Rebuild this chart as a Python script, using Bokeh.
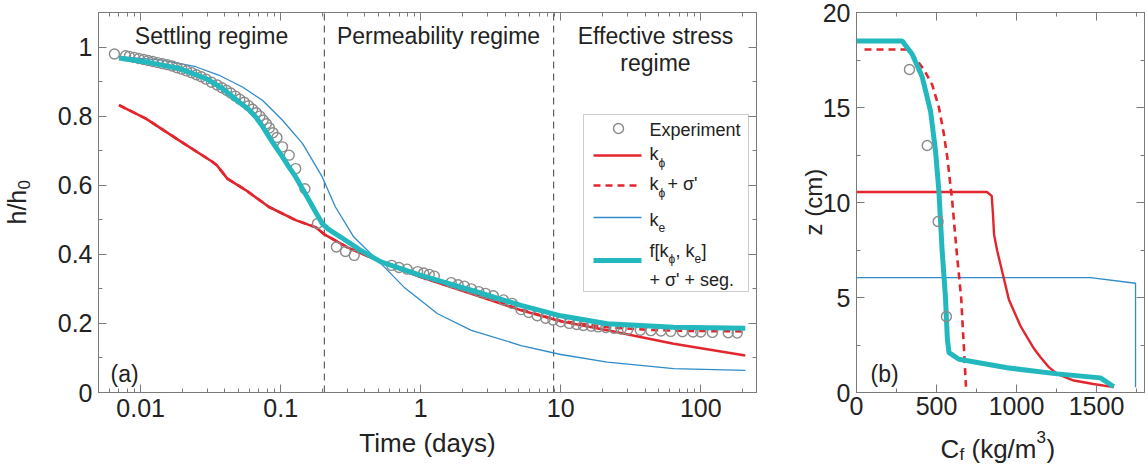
import math
from bokeh.plotting import figure
from bokeh.layouts import row
from bokeh.models import (LinearAxis, LogAxis, LogTicker, SingleIntervalTicker,
                          PrintfTickFormatter, CustomJSTickFormatter, Label, BoxAnnotation, Range1d)
from bokeh.embed import file_html
from bokeh.resources import INLINE

# ---------------- DATA: panel (a) ----------------
exp_t = [0.0065, 0.0078, 0.0083, 0.0090, 0.0097, 0.0105, 0.0113, 0.0122, 0.0132, 0.0143,
         0.0155, 0.0168, 0.0182, 0.0197, 0.0213, 0.0231, 0.0250, 0.0271, 0.0293, 0.0320,
         0.0352, 0.0380, 0.0410, 0.0440, 0.0475, 0.0510, 0.0550, 0.0590, 0.0630, 0.0670,
         0.0710, 0.0750, 0.0790, 0.0830, 0.0880, 0.0940, 0.103, 0.115, 0.128, 0.149,
         0.183, 0.250, 0.290, 0.335, 0.62, 0.70, 0.80, 0.95, 1.05, 1.15,
         1.25, 1.65, 1.85, 2.05, 2.3, 2.6, 2.9, 3.3, 3.9, 4.5,
         5.2, 5.9, 6.8, 7.8, 8.8, 10.0, 11.5, 13.0, 14.5, 16.5,
         18.5, 21.0, 24.0, 27.0, 30.0, 37.0, 44.0, 52.0, 61.0, 74.0,
         88.0, 100.0, 121.0, 157.0, 182.0]
exp_h = [0.980, 0.975, 0.973, 0.970, 0.967, 0.964, 0.961, 0.958, 0.955, 0.952,
         0.949, 0.945, 0.940, 0.936, 0.931, 0.926, 0.920, 0.914, 0.907, 0.898,
         0.890, 0.882, 0.875, 0.867, 0.858, 0.849, 0.840, 0.830, 0.820, 0.810,
         0.800, 0.789, 0.778, 0.766, 0.752, 0.738, 0.711, 0.687, 0.648, 0.590,
         0.489, 0.421, 0.408, 0.397, 0.368, 0.362, 0.357, 0.350, 0.346, 0.342,
         0.337, 0.318, 0.312, 0.308, 0.300, 0.292, 0.287, 0.280, 0.268, 0.258,
         0.240, 0.232, 0.222, 0.215, 0.210, 0.205, 0.200, 0.197, 0.194, 0.192,
         0.190, 0.188, 0.186, 0.184, 0.182, 0.180, 0.179, 0.178, 0.177, 0.176,
         0.175, 0.175, 0.174, 0.173, 0.172]

kphi_t = [0.0070, 0.0109, 0.0188, 0.0325, 0.0350, 0.0416, 0.0562, 0.0826, 0.128, 0.178,
          0.205, 0.30, 0.52, 1.0, 2.3, 5.2, 10.0, 21.5, 64.0, 208.0]
kphi_h = [0.832, 0.793, 0.730, 0.668, 0.658, 0.619, 0.586, 0.537, 0.499, 0.478,
          0.458, 0.420, 0.378, 0.334, 0.286, 0.238, 0.206, 0.180, 0.141, 0.107]

kphis_t = [0.0070, 0.0109, 0.0188, 0.0325, 0.0350, 0.0416, 0.0562, 0.0826, 0.128, 0.178,
           0.205, 0.30, 0.52, 1.0, 2.3, 5.2, 10.0, 21.5, 40.0, 64.0, 100.0, 208.0]
kphis_h = [0.832, 0.793, 0.730, 0.668, 0.658, 0.619, 0.586, 0.537, 0.499, 0.478,
           0.458, 0.420, 0.378, 0.334, 0.288, 0.240, 0.207, 0.189, 0.182, 0.179, 0.178, 0.177]

ke_t = [0.0070, 0.0143, 0.0247, 0.036, 0.053, 0.074, 0.103, 0.143, 0.198, 0.246,
        0.333, 0.52, 0.76, 1.32, 2.3, 5.2, 10.0, 21.5, 64.0, 208.0]
ke_h = [0.972, 0.962, 0.943, 0.919, 0.885, 0.846, 0.788, 0.721, 0.624, 0.537,
        0.450, 0.373, 0.305, 0.228, 0.180, 0.136, 0.110, 0.088, 0.069, 0.064]

fseg_t = [0.0070, 0.0109, 0.0188, 0.0292, 0.0384, 0.0504, 0.0590, 0.0662, 0.0740, 0.0826,
          0.092, 0.103, 0.114, 0.128, 0.143, 0.159, 0.178, 0.198, 0.22, 0.268,
          0.37, 0.52, 1.0, 2.3, 5.2, 10.0, 21.5, 64.0, 208.0]
fseg_h = [0.968, 0.957, 0.938, 0.909, 0.880, 0.841, 0.820, 0.798, 0.771, 0.740,
          0.711, 0.682, 0.654, 0.624, 0.590, 0.557, 0.522, 0.489, 0.472, 0.450,
          0.412, 0.378, 0.339, 0.296, 0.252, 0.222, 0.199, 0.189, 0.186]

regime_bounds = [0.205, 8.9]

# ---------------- DATA: panel (b) ----------------
expb_c = [331, 442, 510, 562]
expb_z = [17.0, 13.0, 9.0, 4.0]

kphib_c = [0, 815, 845, 852, 860, 879, 921, 952, 983, 1025, 1067, 1110, 1150, 1200, 1254, 1358, 1480, 1608]
kphib_z = [10.55, 10.55, 10.35, 9.5, 8.3, 7.47, 6.0, 4.9, 4.3, 3.5, 2.9, 2.3, 1.86, 1.35, 0.98, 0.63, 0.45, 0.28]

kphisb_c = [50, 317, 358, 421, 473, 515, 546, 567, 598, 625, 654, 671, 684]
kphisb_z = [18.05, 18.05, 17.7, 17.0, 16.2, 15.0, 13.6, 12.4, 10.1, 7.5, 5.0, 2.4, 0.3]

keb_c = [0, 1462, 1744, 1744]
keb_z = [6.05, 6.05, 5.75, 0.28]

fsegb_c = [0, 286, 348, 411, 463, 494, 515, 535, 556, 568, 578, 640, 942, 1254, 1525, 1608]
fsegb_z = [18.5, 18.5, 17.8, 16.6, 14.8, 12.7, 10.6, 7.5, 5.0, 2.8, 2.1, 1.75, 1.3, 0.98, 0.77, 0.30]

# ---------------- styles ----------------
FONT = "Liberation Sans"
TXT = "#222222"
FRAME = "#7a7a7a"
RED = "#e3262d"
BLUE = "#2f8bc9"
CYAN = "#22b8bd"
GRAY = "#8a8a8a"

H = 475
TOP, BOT = 12, 83
FH = H - TOP - BOT  # 380 : height of the axes box

A_L, A_R, A_W = 98, 44, 800
A_FW = A_W - A_L - A_R  # 658
AX0, AX1 = 0.005, 250.0
AY0, AY1 = 0.0, 1.1

B_OFF = 800
B_L, B_R, B_W = 56, 3, 347
B_FW = B_W - B_L - B_R  # 288
BX0, BX1 = 0, 1800
BY0, BY1 = 0, 20

DY_TEXT = 5     # baseline correction for horizontal labels (px)
DX_ROT = 15     # baseline correction for vertical labels (px)


def ax_(px):
    lx0, lx1 = math.log10(AX0), math.log10(AX1)
    return 10 ** (lx0 + (px - A_L) / A_FW * (lx1 - lx0))


def ay_(py):
    return AY1 - (py - TOP) / FH * (AY1 - AY0)


def bx_(px):
    return BX0 + (px - B_OFF - B_L) / B_FW * (BX1 - BX0)


def by_(py):
    return BY1 - (py - TOP) / FH * (BY1 - BY0)


def style_axis(ax, size="25px"):
    ax.axis_line_color = FRAME
    ax.major_tick_line_color = FRAME
    ax.minor_tick_line_color = FRAME
    ax.major_tick_in = 8
    ax.major_tick_out = 0
    ax.minor_tick_in = 4
    ax.minor_tick_out = 0
    ax.major_label_text_font = FONT
    ax.major_label_text_font_size = size
    ax.major_label_text_color = TXT
    ax.major_label_standoff = 6


def blank_axis(ax):
    style_axis(ax, "1px")
    ax.major_label_text_alpha = 0
    ax.major_label_standoff = 0


def lab(p, fx, fy, px, py, text, size, align="left"):
    p.add_layout(Label(x=fx(px), y=fy(py - DY_TEXT), text=text, text_font=FONT,
                       text_font_size=size, text_color=TXT, text_align=align,
                       text_baseline="alphabetic"))


def vlab(p, fx, fy, px, py, text, size):
    p.add_layout(Label(x=fx(px - DX_ROT), y=fy(py), text=text, text_font=FONT,
                       text_font_size=size, text_color=TXT, angle=math.pi / 2,
                       text_align="left", text_baseline="alphabetic"))


def make_fig(width, xr, yr, xtype):
    p = figure(width=width, height=H, x_axis_type=xtype, output_backend="svg",
               toolbar_location=None, title=None, x_range=xr, y_range=yr,
               x_axis_location=None, y_axis_location=None,
               min_border_left=0, min_border_right=0, min_border_top=0, min_border_bottom=0)
    p.grid.visible = False
    p.outline_line_color = None
    return p


# ================= panel (a) =================
p1 = make_fig(A_W, Range1d(ax_(0), ax_(A_W)), Range1d(ay_(H), ay_(0)), "log")

bot_a = LogAxis(ticker=LogTicker(num_minor_ticks=10), formatter=PrintfTickFormatter(format="%g"),
                fixed_location=AY0, bounds=(AX0, AX1))
style_axis(bot_a)
p1.add_layout(bot_a, "below")
left_a = LinearAxis(ticker=SingleIntervalTicker(interval=0.2, num_minor_ticks=2),
                    formatter=CustomJSTickFormatter(code="return String(Math.round(tick*10)/10);"),
                    fixed_location=AX0, bounds=(AY0, AY1))
style_axis(left_a)
p1.add_layout(left_a, "left")
top_a = LogAxis(ticker=LogTicker(num_minor_ticks=10), fixed_location=AY1, bounds=(AX0, AX1))
blank_axis(top_a)
p1.add_layout(top_a, "above")
right_a = LinearAxis(ticker=SingleIntervalTicker(interval=0.2, num_minor_ticks=2),
                     fixed_location=AX1, bounds=(AY0, AY1))
blank_axis(right_a)
p1.add_layout(right_a, "right")

p1.add_layout(BoxAnnotation(left=ax_(583), right=ax_(748), top=ay_(114), bottom=ay_(291),
                            fill_color="white", fill_alpha=1.0, line_color="#555555",
                            line_width=1, level="underlay"))

p1.segment(x0=regime_bounds, y0=[AY0] * len(regime_bounds), x1=regime_bounds,
           y1=[AY1] * len(regime_bounds), line_color="#444444", line_width=1, line_dash="7 5")

p1.line(ke_t, ke_h, line_color=BLUE, line_width=1.3)
p1.line(kphi_t, kphi_h, line_color=RED, line_width=2.6)
p1.line(kphis_t, kphis_h, line_color=RED, line_width=2.6, line_dash="7 5")
p1.scatter(exp_t, exp_h, marker="circle", size=10, fill_color=None, line_color=GRAY, line_width=1.4)
p1.line(fseg_t, fseg_h, line_color=CYAN, line_width=5)

lab(p1, ax_, ay_, 211, 40, "Settling regime", "23px", align="center")
lab(p1, ax_, ay_, 438, 40, "Permeability regime", "23px", align="center")
lab(p1, ax_, ay_, 655, 40, "Effective stress", "23px", align="center")
lab(p1, ax_, ay_, 655, 67, "regime", "23px", align="center")
lab(p1, ax_, ay_, 110, 378, "(a)", "23px")

lab(p1, ax_, ay_, 427, 447, "Time (days)", "26px", align="center")
vlab(p1, ax_, ay_, 31, 224, "h/h", "25px")
vlab(p1, ax_, ay_, 38, 189, "0", "17px")

# legend entries
LS = "18px"
SS = "12px"
p1.scatter([ax_(618)], [ay_(128)], marker="circle", size=10, fill_color=None, line_color=GRAY, line_width=1.4)
lab(p1, ax_, ay_, 649, 134, "Experiment", LS)
p1.line([ax_(593), ax_(641)], [ay_(155), ay_(155)], line_color=RED, line_width=2.6)
lab(p1, ax_, ay_, 649, 158, "k", LS)
lab(p1, ax_, ay_, 658, 167, "\u03d5", SS)
p1.line([ax_(593), ax_(641)], [ay_(185), ay_(185)], line_color=RED, line_width=2.6, line_dash="7 5")
lab(p1, ax_, ay_, 649, 188, "k", LS)
lab(p1, ax_, ay_, 658, 197, "\u03d5", SS)
lab(p1, ax_, ay_, 667, 188, "+ \u03c3'", LS)
p1.line([ax_(593), ax_(641)], [ay_(217), ay_(217)], line_color=BLUE, line_width=1.3)
lab(p1, ax_, ay_, 649, 224, "k", LS)
lab(p1, ax_, ay_, 658, 232, "e", SS)
p1.line([ax_(593), ax_(641)], [ay_(260), ay_(260)], line_color=CYAN, line_width=5)
lab(p1, ax_, ay_, 649, 255, "f[k", LS)
lab(p1, ax_, ay_, 668, 263, "\u03d5", SS)
lab(p1, ax_, ay_, 675, 255, ", k", LS)
lab(p1, ax_, ay_, 694, 263, "e", SS)
lab(p1, ax_, ay_, 701, 255, "]", LS)
lab(p1, ax_, ay_, 649, 284, "+ \u03c3' + seg.", LS)

# ================= panel (b) =================
p2 = make_fig(B_W, Range1d(bx_(B_OFF), bx_(B_OFF + B_W)), Range1d(by_(H), by_(0)), "linear")

bot_b = LinearAxis(ticker=SingleIntervalTicker(interval=500, num_minor_ticks=2),
                   fixed_location=BY0, bounds=(BX0, BX1))
style_axis(bot_b)
bot_b.major_label_standoff = 4
p2.add_layout(bot_b, "below")
left_b = LinearAxis(ticker=SingleIntervalTicker(interval=5, num_minor_ticks=2),
                    fixed_location=BX0, bounds=(BY0, BY1))
style_axis(left_b)
p2.add_layout(left_b, "left")
top_b = LinearAxis(ticker=SingleIntervalTicker(interval=500, num_minor_ticks=2),
                   fixed_location=BY1, bounds=(BX0, BX1))
blank_axis(top_b)
p2.add_layout(top_b, "above")
right_b = LinearAxis(ticker=SingleIntervalTicker(interval=5, num_minor_ticks=2),
                     fixed_location=BX1, bounds=(BY0, BY1))
blank_axis(right_b)
p2.add_layout(right_b, "right")

p2.line(keb_c, keb_z, line_color=BLUE, line_width=1.3)
p2.line(kphib_c, kphib_z, line_color=RED, line_width=2.4)
p2.line(kphisb_c, kphisb_z, line_color=RED, line_width=2.6, line_dash="7 5")
p2.line(fsegb_c, fsegb_z, line_color=CYAN, line_width=5)
p2.scatter(expb_c, expb_z, marker="circle", size=10, fill_color=None, line_color=GRAY, line_width=1.4)

lab(p2, bx_, by_, 870, 378, "(b)", "23px")
vlab(p2, bx_, by_, 828, 235, "z (cm)", "24px")
lab(p2, bx_, by_, 940, 453, "C", "26px")
lab(p2, bx_, by_, 959, 459, "f", "17px")
lab(p2, bx_, by_, 971, 453, "(kg/m", "26px")
lab(p2, bx_, by_, 1036, 441, "3", "17px")
lab(p2, bx_, by_, 1046, 453, ")", "26px")

layout = row(p1, p2)
open("out.html", "w").write(file_html(layout, INLINE))
